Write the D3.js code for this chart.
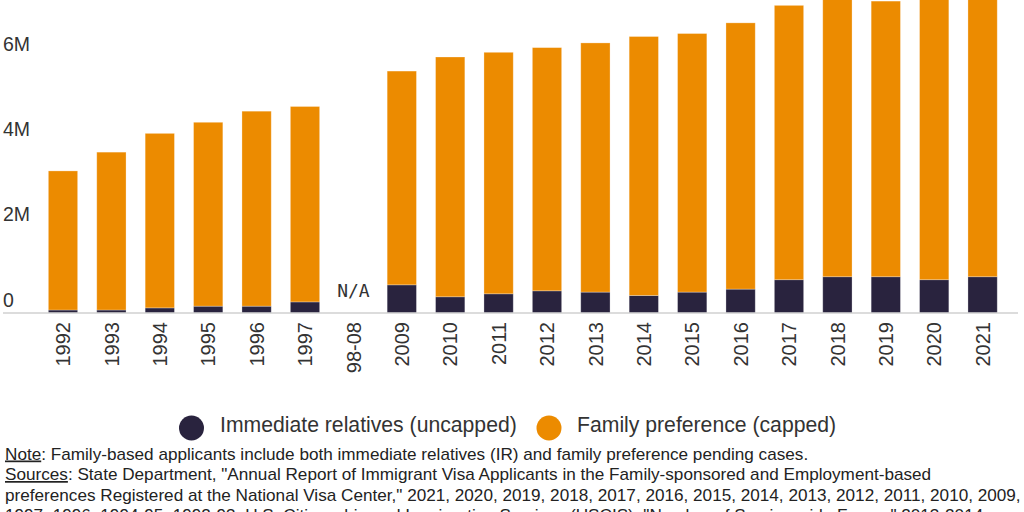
<!DOCTYPE html>
<html>
<head>
<meta charset="utf-8">
<script src="https://cdn.jsdelivr.net/npm/d3@7"></script>
<style>
  html, body { margin: 0; padding: 0; background: #fff; overflow: hidden; }
  svg { display: block; }
</style>
</head>
<body>
<svg id="chart" width="1024" height="512"></svg>
<script>
// ---- Data (millions of applicants) ----
const categories = ["1992","1993","1994","1995","1996","1997","98-08","2009","2010","2011","2012","2013","2014","2015","2016","2017","2018","2019","2020","2021"];
const immediateRelatives = [0.07,0.07,0.12,0.16,0.16,0.26,null,0.66,0.38,0.45,0.52,0.49,0.41,0.49,0.56,0.78,0.85,0.85,0.78,0.85];
const familyPreference   = [3.26,3.70,4.09,4.31,4.57,4.58,null,5.01,5.62,5.66,5.70,5.84,6.07,6.06,6.24,6.43,6.60,6.46,6.77,6.90];
const yTickValues = [0, 2, 4, 6];
const yTickLabels = ["0", "2M", "4M", "6M"];
const seriesNames = ["Immediate relatives (uncapped)", "Family preference (capped)"];
const missingLabel = "N/A";

const colors = { ir: "#29233e", fp: "#ec8b00" };

const svg = d3.select("#chart");

const x = d3.scaleBand()
  .domain(categories)
  .range([38.8, 1006.8])
  .paddingInner(0.395)
  .paddingOuter(0.1975);

const y = d3.scaleLinear().domain([0, 6]).range([313, 57]);

const table = categories.map((c, i) => ({
  cat: c,
  ir: immediateRelatives[i] || 0,
  fp: familyPreference[i] || 0,
  missing: immediateRelatives[i] == null
}));

const stack = d3.stack().keys(["ir", "fp"]);
const layers = stack(table);

// bars
svg.append("g").selectAll("g")
  .data(layers)
  .join("g")
  .attr("fill", d => colors[d.key])
  .selectAll("rect")
  .data(d => d.filter(p => !p.data.missing))
  .join("rect")
  .attr("x", d => x(d.data.cat))
  .attr("width", x.bandwidth())
  .attr("y", d => y(d[1]))
  .attr("height", d => y(d[0]) - y(d[1]))
  .attr("stroke", "#ffffff")
  .attr("stroke-opacity", 0.35)
  .attr("stroke-width", 0.8);

// baseline
svg.append("line")
  .attr("x1", 3).attr("x2", 1018)
  .attr("y1", y(0)).attr("y2", y(0))
  .attr("stroke", "#d0d0d0")
  .attr("stroke-width", 1.6);

// N/A label
table.filter(d => d.missing).forEach(d => {
  svg.append("text")
    .attr("x", x(d.cat) + x.bandwidth() / 2)
    .attr("y", 297)
    .attr("text-anchor", "middle")
    .attr("font-family", "'DejaVu Sans Mono', monospace")
    .attr("font-size", 18)
    .attr("fill", "#333")
    .text(missingLabel);
});

// y axis
const yAxis = d3.axisLeft(y)
  .tickValues(yTickValues)
  .tickFormat((d, i) => yTickLabels[i])
  .tickSize(0);
const gy = svg.append("g").call(yAxis);
gy.select(".domain").remove();
gy.selectAll("text")
  .attr("x", 3)
  .attr("y", -7)
  .attr("dy", 0)
  .attr("text-anchor", "start")
  .attr("font-family", "'Liberation Sans', Arial, sans-serif")
  .attr("font-size", 19.5)
  .attr("fill", "#333");

// x axis
const xAxis = d3.axisBottom(x).tickSize(0);
const gx = svg.append("g").attr("transform", `translate(0,${y(0)})`).call(xAxis);
gx.select(".domain").remove();
gx.selectAll("text")
  .attr("transform", "rotate(-90)")
  .attr("x", -9)
  .attr("y", 0)
  .attr("dy", "0.36em")
  .attr("text-anchor", "end")
  .attr("font-family", "'Liberation Sans', Arial, sans-serif")
  .attr("font-size", 20)
  .attr("fill", "#333");

// legend
const legendItems = [
  { name: seriesNames[0], color: colors.ir, cx: 191.5, tx: 220 },
  { name: seriesNames[1], color: colors.fp, cx: 549, tx: 577 }
];
const lg = svg.append("g");
legendItems.forEach(it => {
  lg.append("circle").attr("cx", it.cx).attr("cy", 428).attr("r", 12.5).attr("fill", it.color);
  lg.append("text")
    .attr("x", it.tx).attr("y", 432)
    .attr("font-family", "'Liberation Sans', Arial, sans-serif")
    .attr("font-size", 21.2)
    .attr("fill", "#333")
    .text(it.name);
});

// notes
const noteFont = "'Liberation Sans', Arial, sans-serif";
const notes = svg.append("g")
  .attr("font-family", noteFont)
  .attr("font-size", 17.15)
  .attr("fill", "#222");

const t1 = notes.append("text").attr("x", 5).attr("y", 459.5);
t1.append("tspan").attr("text-decoration", "underline").text("Note");
t1.append("tspan").text(": Family-based applicants include both immediate relatives (IR) and family preference pending cases.");

const t2 = notes.append("text").attr("x", 5).attr("y", 480);
t2.append("tspan").attr("text-decoration", "underline").text("Sources");
t2.append("tspan").text(": State Department, \"Annual Report of Immigrant Visa Applicants in the Family-sponsored and Employment-based");

notes.append("text").attr("x", 5).attr("y", 500.5)
  .text("preferences Registered at the National Visa Center,\" 2021, 2020, 2019, 2018, 2017, 2016, 2015, 2014, 2013, 2012, 2011, 2010, 2009,");

notes.append("text").attr("x", 5).attr("y", 521)
  .text("1997, 1996, 1994-95, 1992-93; U.S. Citizenship and Immigration Services (USCIS), \"Number of Service-wide Forms,\" 2013-2014,");
</script>
</body>
</html>
